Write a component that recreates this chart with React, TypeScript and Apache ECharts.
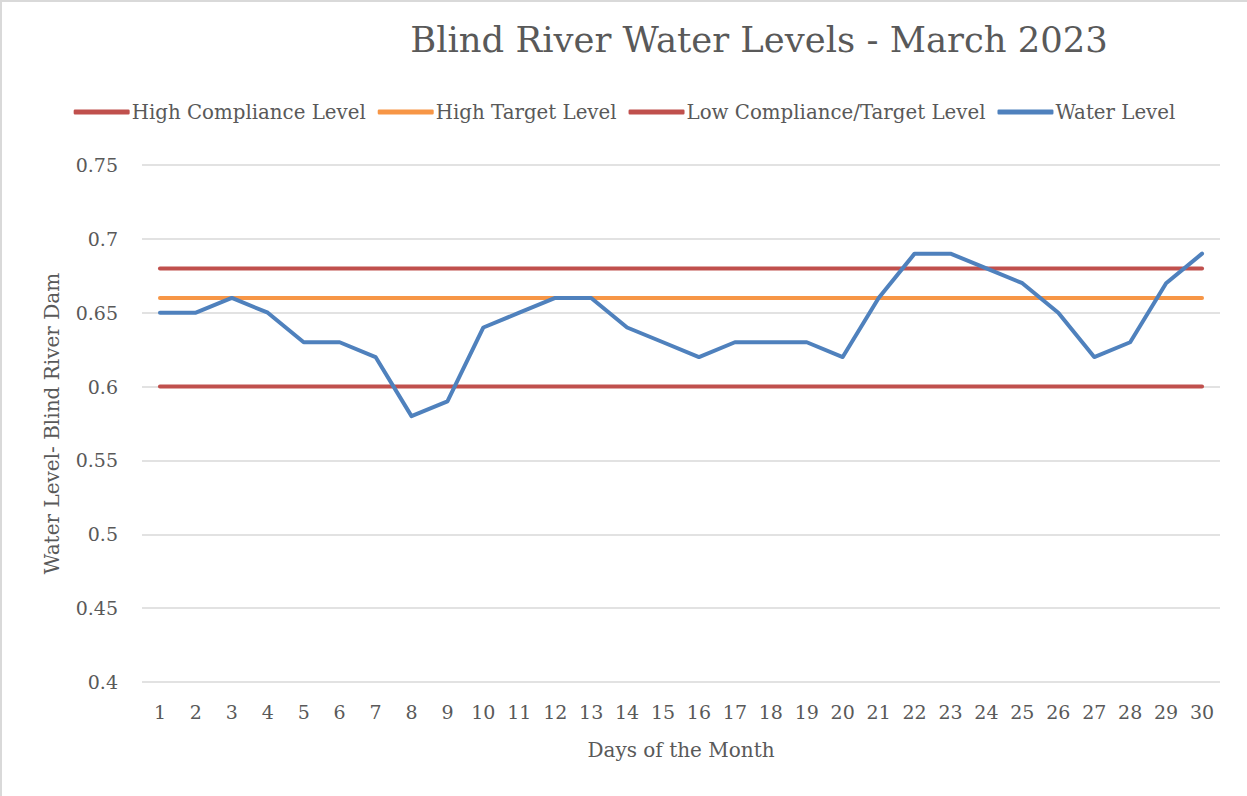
import React, { useEffect, useRef } from "react";
import * as echarts from "echarts";

const days = Array.from({ length: 30 }, (_, i) => String(i + 1));
const waterLevel = [
  0.65, 0.65, 0.66, 0.65, 0.63, 0.63, 0.62, 0.58, 0.59, 0.64,
  0.65, 0.66, 0.66, 0.64, 0.63, 0.62, 0.63, 0.63, 0.63, 0.62,
  0.66, 0.69, 0.69, 0.68, 0.67, 0.65, 0.62, 0.63, 0.67, 0.69,
];
const highCompliance = days.map(() => 0.68);
const highTarget = days.map(() => 0.66);
const lowCompliance = days.map(() => 0.6);

const FONT = "'DejaVu Serif', 'Liberation Serif', serif";
const TXT = "#595959";

export default function App() {
  const ref = useRef<HTMLDivElement>(null);
  useEffect(() => {
    const chart = echarts.init(ref.current!, null, { renderer: "svg" });
    const mk = (name: string, data: number[], color: string) => ({
      name,
      type: "line",
      data,
      symbol: "none",
      lineStyle: { color, width: 4, cap: "round", join: "round" },
      itemStyle: { color },
    });
    chart.setOption({
      animation: false,
      backgroundColor: "#ffffff",
      textStyle: { fontFamily: FONT },
      title: {
        text: "Blind River Water Levels - March 2023",
        left: 752,
        top: 15,
        textAlign: "center",
        textStyle: { fontFamily: FONT, fontSize: 35.4, fontWeight: "normal", color: TXT },
      },
      legend: {
        top: 95,
        left: "center",
        icon: "roundRect",
        itemWidth: 56,
        itemHeight: 5,
        itemGap: 12,
        textStyle: { fontFamily: FONT, fontSize: 19.8, color: TXT, padding: [0, 0, 0, -3] },
        data: ["High Compliance Level", "High Target Level", "Low Compliance/Target Level", "Water Level"],
      },
      grid: { left: 140, right: 27, top: 163, bottom: 114, containLabel: false },
      xAxis: {
        type: "category",
        data: days,
        boundaryGap: true,
        axisLine: { show: false },
        axisTick: { show: false },
        axisLabel: { fontFamily: FONT, fontSize: 19, color: TXT, margin: 20, interval: 0 },
        name: "Days of the Month",
        nameLocation: "middle",
        nameGap: 58,
        nameTextStyle: { fontFamily: FONT, fontSize: 20, color: TXT },
      },
      yAxis: {
        type: "value",
        min: 0.4,
        max: 0.75,
        interval: 0.05,
        axisLine: { show: false },
        axisTick: { show: false },
        splitLine: { lineStyle: { color: "#d9d9d9", width: 1.5 } },
        axisLabel: {
          fontFamily: FONT,
          fontSize: 19,
          color: TXT,
          margin: 24,
          formatter: (v: number) => String(parseFloat(v.toFixed(2))),
        },
        name: "Water Level- Blind River Dam",
        nameLocation: "middle",
        nameGap: 80,
        nameTextStyle: { fontFamily: FONT, fontSize: 20, color: TXT },
      },
      series: [
        mk("High Compliance Level", highCompliance, "#C0504D"),
        mk("High Target Level", highTarget, "#F79646"),
        mk("Low Compliance/Target Level", lowCompliance, "#C0504D"),
        mk("Water Level", waterLevel, "#4F81BD"),
      ],
    });
    return () => chart.dispose();
  }, []);
  return (
    <div
      style={{
        position: "fixed",
        left: 0,
        top: 0,
        width: 1247,
        height: 796,
        boxSizing: "border-box",
        borderLeft: "2px solid #d9d9d9",
        borderTop: "2px solid #d9d9d9",
        background: "#fff",
      }}
    >
      <div ref={ref} style={{ width: 1245, height: 794 }} />
    </div>
  );
}
